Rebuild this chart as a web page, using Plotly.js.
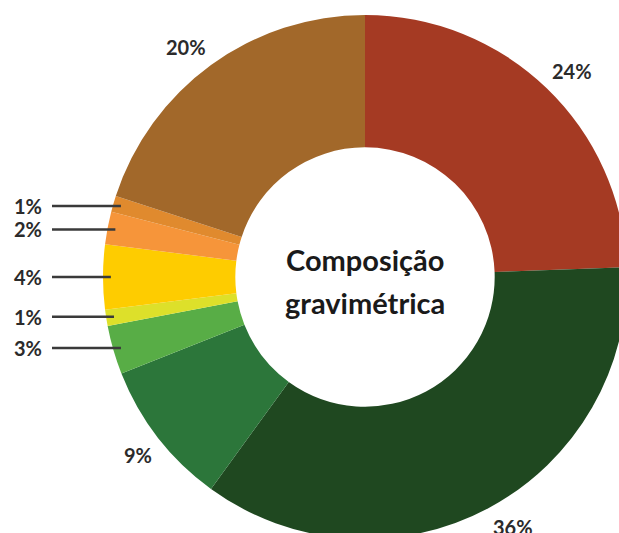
<!DOCTYPE html>
<html>
<head>
<meta charset="utf-8">
<script src="https://cdn.plot.ly/plotly-3.0.1.min.js"></script>
<style>
html,body{margin:0;padding:0;overflow:hidden;background:#fff;}
#chart{width:730px;height:554px;}
</style>
</head>
<body>
<div id="chart"></div>
<script>
// Data (clockwise from 12 o'clock)
const categories = ['Fração 1','Fração 2','Fração 3','Fração 4','Fração 5','Fração 6','Fração 7','Fração 8','Fração 9'];
const values = [24.4, 35.6, 9, 3, 1, 4, 2, 1, 20];
const colors = ['#A53A23','#1F4820','#2C763A','#58AD46','#DDE02A','#FECC00','#F6953A','#E08A2E','#A2682A'];
const centerLines = ['Composição', 'gravimétrica'];

const W = 730, H = 554, M = 15;
const R = (H - 2 * M) / 2, cx = W / 2, cy = M + R;
const total = values.reduce((a, b) => a + b, 0);
const toPx = (px, py) => [px / W, 1 - (py - M) / (H - 2 * M)];
const pt = (theta, r) => [cx + r * Math.sin(theta), cy - r * Math.cos(theta)];

const annotations = [];
const shapes = [];
const labFont = {family: 'Lato, "Open Sans", sans-serif', size: 20, color: '#2b2b2b', weight: 'bold'};
let cum = 0;
values.forEach((v, i) => {
  const theta = (cum + v / 2) / total * 2 * Math.PI;
  cum += v;
  const txt = '<b>' + Math.round(v / total * 100) + '%</b>';
  if (v <= 4) {
    const end = pt(theta, 0.97 * R);
    const a = toPx(52, end[1]);
    const b = toPx(end[0], end[1]);
    shapes.push({type: 'line', xref: 'paper', yref: 'paper', x0: a[0], y0: a[1], x1: b[0], y1: b[1],
      line: {color: '#3a3a3a', width: 2.5}});
    const l = toPx(44, end[1]);
    annotations.push({xref: 'paper', yref: 'paper', x: l[0], y: l[1], text: txt, showarrow: false,
      xanchor: 'right', yanchor: 'middle', font: labFont});
  } else {
    const p = pt(theta, 1.02 * R);
    const q = toPx(p[0], p[1]);
    annotations.push({xref: 'paper', yref: 'paper', x: q[0], y: q[1], text: txt, showarrow: false,
      xanchor: Math.sin(theta) > 0 ? 'left' : 'right',
      yanchor: Math.cos(theta) > 0 ? 'bottom' : 'top', font: labFont});
  }
});

const cFont = {family: 'Lato, "Open Sans", sans-serif', size: 29, color: '#1a1a1a'};
[259, 302].forEach((py, i) => {
  const q = toPx(cx, py);
  annotations.push({xref: 'paper', yref: 'paper', x: q[0], y: q[1], text: '<b>' + centerLines[i] + '</b>',
    showarrow: false, xanchor: 'center', yanchor: 'middle', font: cFont});
});

Plotly.newPlot('chart', [{
  type: 'pie',
  labels: categories,
  values: values,
  marker: {colors: colors, line: {width: 0}},
  hole: 0.495,
  sort: false,
  direction: 'clockwise',
  rotation: 0,
  textinfo: 'none',
  hoverinfo: 'label+percent'
}], {
  width: W, height: H,
  margin: {l: 0, r: 0, t: M, b: M, pad: 0},
  showlegend: false,
  paper_bgcolor: '#ffffff',
  annotations: annotations,
  shapes: shapes
}, {displayModeBar: false, staticPlot: true});
</script>
</body>
</html>
